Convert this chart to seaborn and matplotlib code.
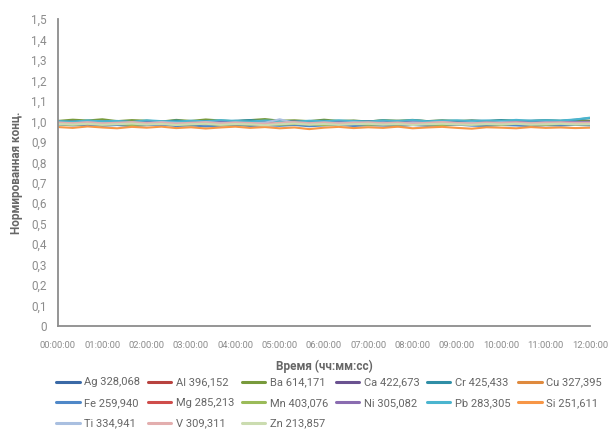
import numpy as np
import pandas as pd
import matplotlib
matplotlib.use("Agg")
import matplotlib.pyplot as plt
import seaborn as sns

# legend names (element + wavelength)
names = ['Ag 328,068', 'Al 396,152', 'Ba 614,171', 'Ca 422,673', 'Cr 425,433', 'Cu 327,395',
         'Fe 259,940', 'Mg 285,213', 'Mn 403,076', 'Ni 305,082', 'Pb 283,305', 'Si 251,611',
         'Ti 334,941', 'V 309,311', 'Zn 213,857']

colors = ['#3a69a6', '#b8423f', '#789a3c', '#6a5290', '#2f8ea6', '#df8a3e',
          '#4f88c8', '#cf4d4b', '#9bbb59', '#8a6cb0', '#4bb5cf', '#f79646',
          '#a9bfe0', '#e3aeae', '#cbdcb0']

# normalised concentration, one reading every 20 minutes over 12 h
ag = [0.995,0.992,0.990,0.988,0.993,0.986,0.990,0.984,0.989,0.992,0.985,0.988,0.991,0.983,0.986,0.990,0.987,0.992,0.984,0.989,0.986,0.991,0.988,0.985,0.990,0.987,0.983,0.989,0.992,0.986,0.988,0.990,0.985,0.989,0.991,0.987,0.990]
al = [0.998,0.996,1.001,0.994,0.997,0.993,0.999,0.995,0.992,0.998,0.996,0.994,1.000,0.993,0.997,0.995,0.999,0.994,0.996,0.998,0.993,0.997,1.001,0.995,0.998,0.994,0.996,1.000,0.997,0.993,0.998,0.996,1.000,0.995,0.998,1.002,0.999]
ba = [1.002,1.008,1.004,1.010,1.001,1.006,1.003,0.999,1.007,1.002,1.009,1.004,1.000,1.006,1.011,1.003,1.005,1.001,1.008,1.002,1.004,0.999,1.006,1.003,1.007,1.001,1.005,1.002,1.004,1.000,1.006,1.003,1.001,1.005,1.002,1.004,1.003]
ca = [0.996,0.999,0.994,0.998,1.001,0.995,0.997,0.993,0.999,0.996,1.000,0.994,0.998,0.995,0.999,0.997,0.993,0.998,1.001,0.996,0.994,0.999,0.997,1.002,0.995,0.998,0.996,1.000,0.994,0.999,0.997,1.003,0.996,0.999,1.001,0.997,0.998]
cr = [1.000,0.997,1.003,0.999,1.001,0.996,1.002,0.998,1.004,0.999,1.001,0.997,1.003,1.006,0.999,1.002,0.998,1.001,1.003,0.999,1.002,1.000,1.004,0.998,1.005,1.001,1.003,0.999,1.004,1.002,1.006,1.001,1.003,1.005,1.002,1.008,1.016]
cu = [0.988,0.984,0.987,0.982,0.986,0.989,0.983,0.987,0.985,0.981,0.986,0.988,0.984,0.980,0.985,0.987,0.983,0.986,0.982,0.988,0.984,0.986,0.983,0.987,0.985,0.981,0.986,0.984,0.988,0.983,0.985,0.987,0.984,0.986,0.983,0.985,0.984]
fe = [0.985,0.980,0.983,0.978,0.982,0.976,0.981,0.984,0.977,0.980,0.975,0.979,0.983,0.977,0.981,0.978,0.982,0.976,0.980,0.983,0.977,0.981,0.979,0.976,0.982,0.978,0.980,0.984,0.979,0.977,0.982,0.980,0.976,0.981,0.979,0.983,0.980]
mg = [0.992,0.989,0.994,0.990,0.987,0.993,0.991,0.988,0.994,0.990,0.992,0.987,0.991,0.995,0.989,0.992,0.988,0.993,0.990,0.987,0.992,0.989,0.994,0.991,0.988,0.993,0.990,0.992,0.988,0.994,0.991,0.989,0.993,0.990,0.992,0.995,0.991]
mn = [0.986,0.983,0.988,0.984,0.987,0.982,0.986,0.989,0.983,0.985,0.988,0.982,0.986,0.984,0.989,0.983,0.987,0.985,0.982,0.986,0.988,0.983,0.986,0.984,0.989,0.985,0.982,0.987,0.984,0.986,0.983,0.988,0.985,0.983,0.987,0.985,0.986]
ni = [0.996,0.993,0.997,0.994,0.998,0.992,0.996,0.999,0.994,0.997,0.993,0.998,0.995,0.991,0.997,0.994,0.999,0.995,0.992,0.997,0.994,0.998,0.996,0.993,0.999,0.995,0.997,0.993,0.998,0.996,0.994,0.999,0.995,0.998,1.001,0.996,0.997]
pb = [1.001,0.998,1.004,1.000,1.002,0.997,1.005,1.001,0.998,1.003,1.000,1.006,1.002,0.999,1.004,1.001,0.997,1.003,1.000,1.005,1.001,0.998,1.004,1.002,1.006,1.000,1.003,1.005,1.001,1.004,1.002,1.007,1.003,1.005,1.004,1.009,1.018]
si = [0.972,0.968,0.975,0.970,0.966,0.973,0.969,0.974,0.967,0.971,0.965,0.970,0.974,0.968,0.972,0.966,0.970,0.962,0.969,0.973,0.967,0.971,0.968,0.974,0.966,0.970,0.973,0.968,0.964,0.971,0.969,0.966,0.972,0.968,0.970,0.967,0.969]
ti = [0.993,0.990,0.995,0.991,0.988,0.994,0.990,0.996,0.992,0.989,0.997,0.991,0.994,0.990,0.993,1.010,0.992,0.989,0.994,0.991,0.995,0.990,0.993,0.988,0.994,0.991,0.996,0.990,0.993,0.989,0.995,0.992,0.990,0.994,0.991,0.993,0.992]
v = [0.994,0.991,0.995,0.990,0.993,0.996,0.991,0.994,0.989,0.993,0.995,0.990,0.994,0.992,0.988,0.993,0.996,0.991,0.994,0.990,0.993,0.995,0.991,0.994,0.989,0.993,0.996,0.992,0.990,0.994,0.992,0.995,0.991,0.993,0.995,0.992,0.993]
zn = [0.987,0.984,0.988,0.983,0.986,0.989,0.984,0.987,0.982,0.986,0.988,0.983,0.987,0.985,0.981,0.986,0.989,0.984,0.987,0.983,0.986,0.988,0.984,0.987,0.982,0.986,0.988,0.985,0.983,0.987,0.985,0.988,0.984,0.986,0.988,0.985,0.986]

series = [ag, al, ba, ca, cr, cu, fe, mg, mn, ni, pb, si, ti, v, zn]

x_ticks = list(range(0, 13))
x_labels = [f"{h:02d}:00:00" for h in x_ticks]
y_ticks = [round(0.1 * i, 1) for i in range(16)]
y_labels = ['0'] + [f"{t:.1f}".replace('.', ',') for t in y_ticks[1:]]

# long form table for seaborn
rows = []
for name, vals in zip(names, series):
    hours = np.linspace(0, 12, len(vals))
    for h, val in zip(hours, vals):
        rows.append((name, h, val))
df = pd.DataFrame(rows, columns=['element', 'hours', 'conc'])

sns.set_style('white')
plt.rcParams['font.family'] = ['Roboto', 'DejaVu Sans']

grey = '#8c8c8c'
text_grey = '#666666'

fig = plt.figure(figsize=(6.1, 4.33), dpi=100)
ax = fig.add_axes([58 / 610, 1 - 326 / 433, 532 / 610, 307 / 433])

sns.lineplot(data=df, x='hours', y='conc', hue='element', hue_order=names,
             palette=dict(zip(names, colors)), linewidth=1.5, ax=ax, legend=False)

ax.set_xlim(0, 12)
ax.set_ylim(0, 1.5)
ax.set_xticks(x_ticks)
ax.set_xticklabels(x_labels, fontsize=6.8, color=grey)
ax.set_yticks(y_ticks)
ax.set_yticklabels(y_labels, fontsize=8.5, color=grey)
ax.tick_params(axis='both', length=5, width=1.1, color=grey, direction='out', pad=3)
ax.tick_params(axis='x', pad=6)

for s in ['top', 'right']:
    ax.spines[s].set_visible(False)
for s in ['left', 'bottom']:
    ax.spines[s].set_color(grey)
    ax.spines[s].set_linewidth(1.3)

ax.set_xlabel('Время (чч:мм:сс)', fontsize=8.5, fontweight='bold', color=text_grey, labelpad=7)
ax.set_ylabel('Нормированная конц.', fontsize=8.5, fontweight='bold', color=text_grey, labelpad=6)

# legend: 6 columns, filled row by row like the original
handles = [plt.Line2D([], [], color=c, linewidth=2.2) for c in colors]
order = [0, 6, 12, 1, 7, 13, 2, 8, 14, 3, 9, 4, 10, 5, 11]
leg = fig.legend([handles[i] for i in order], [names[i] for i in order],
                 ncol=6, loc='upper left', bbox_to_anchor=(52 / 610, 1 - 373 / 433),
                 frameon=False, fontsize=8, handlelength=2.1, handletextpad=0.4,
                 columnspacing=0.7, labelspacing=0.95, borderaxespad=0)
for t in leg.get_texts():
    t.set_color(text_grey)

fig.savefig('out.png', dpi=100)
